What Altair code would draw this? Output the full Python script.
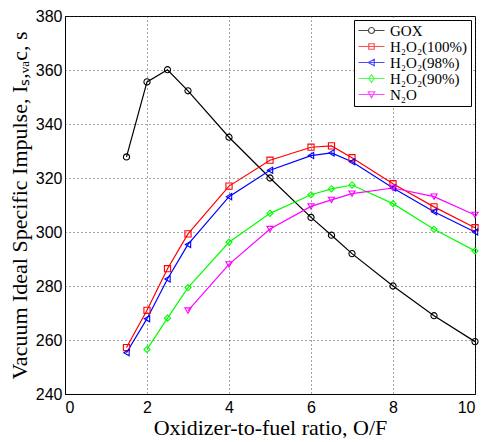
import altair as alt
import pandas as pd

# ---- data ----
series_names = ["GOX", "H₂O₂(100%)", "H₂O₂(98%)", "H₂O₂(90%)", "N₂O"]
series_colors = ["#000000", "#ff0000", "#0000ff", "#00ff00", "#ff00ff"]
series_shapes = ["circle", "square", "triangle-left", "diamond", "triangle-down"]

ratios_gox = [1.5, 2, 2.5, 3, 4, 5, 6, 6.5, 7, 8, 9, 10]
isp_gox = [327.8, 355.6, 360.1, 352.3, 335.1, 320.0, 305.4, 298.8, 292.0, 280.0, 269.0, 259.4]

ratios_h100 = [1.5, 2, 2.5, 3, 4, 5, 6, 6.5, 7, 8, 9, 10]
isp_h100 = [257.2, 271.0, 286.4, 299.3, 317.0, 326.6, 331.4, 331.9, 327.5, 317.9, 309.3, 301.6]

ratios_h98 = [1.5, 2, 2.5, 3, 4, 5, 6, 6.5, 7, 8, 9, 10]
isp_h98 = [255.3, 267.9, 282.6, 295.4, 313.1, 322.9, 328.3, 329.3, 326.0, 316.3, 307.5, 300.0]

ratios_h90 = [2, 2.5, 3, 4, 5, 6, 6.5, 7, 8, 9, 10]
isp_h90 = [256.5, 268.1, 279.4, 296.2, 306.9, 313.8, 316.0, 317.4, 310.5, 301.0, 293.0]

ratios_n2o = [3, 4, 5, 6, 6.5, 7, 8, 9, 10]
isp_n2o = [270.9, 288.0, 301.1, 309.5, 311.9, 314.2, 316.3, 313.1, 306.3]

x_ticks = [0, 2, 4, 6, 8, 10]
y_ticks = [240, 260, 280, 300, 320, 340, 360, 380]

# legend glyphs: short line segment with the series marker on it
legend_paths = [
    "M-2.6,0H-0.6M0.6,0H2.6M0.6,0A0.6,0.6 0 1 1 -0.6,0A0.6,0.6 0 1 1 0.6,0",
    "M-2.6,0H2.6M-0.55,-0.55H0.55V0.55H-0.55Z",
    "M-2.6,0H2.6M-0.65,0L0.55,-0.65V0.65Z",
    "M-2.6,0H2.6M0,-0.75L0.55,0L0,0.75L-0.55,0Z",
    "M-2.6,0H2.6M-0.65,-0.55H0.65L0,0.65Z",
]

ratios = [ratios_gox, ratios_h100, ratios_h98, ratios_h90, ratios_n2o]
isps = [isp_gox, isp_h100, isp_h98, isp_h90, isp_n2o]

rows = []
for name, xs, ys in zip(series_names, ratios, isps):
    for xv, yv in zip(xs, ys):
        rows.append({"series": name, "of": xv, "isp": yv})
df = pd.DataFrame(rows)

x_enc = alt.X(
    "of:Q",
    scale=alt.Scale(domain=[0, 10], nice=False, zero=False),
    axis=alt.Axis(values=x_ticks, title="Oxidizer-to-fuel ratio, O/F", format="d",
                  labelPadding=5, titlePadding=2),
)
y_enc = alt.Y(
    "isp:Q",
    scale=alt.Scale(domain=[240, 380], nice=False, zero=False),
    axis=alt.Axis(values=y_ticks, title="Vacuum Ideal Specific Impulse, Iₛ,ᵥₐc, s",
                  format="d", labelPadding=3, titlePadding=4),
)
color_scale = alt.Scale(domain=series_names, range=series_colors)

leg = alt.Legend(
    title=None, orient="top-right", offset=4, fillColor="white", strokeColor="black",
    padding=3, rowPadding=0, labelFont="Liberation Serif", labelFontSize=15,
    labelColor="black", symbolSize=100, symbolStrokeWidth=1.2, symbolOffset=7,
    labelOffset=11, symbolFillColor="transparent",
)

lines = alt.Chart(df).mark_line(strokeWidth=1.2).encode(
    x=x_enc, y=y_enc,
    color=alt.Color("series:N", scale=color_scale, legend=leg),
)

point_layers = []
for name, col, shp in zip(series_names, series_colors, series_shapes):
    point_layers.append(
        alt.Chart(df)
        .transform_filter(alt.datum.series == name)
        .mark_point(shape=shp, color=col, filled=False, size=38, strokeWidth=1.1, opacity=1)
        .encode(x=x_enc, y=y_enc)
    )

legend_layer = (
    alt.Chart(df)
    .transform_filter("false")
    .mark_point(filled=False, strokeWidth=1.2)
    .encode(
        x=x_enc, y=y_enc,
        color=alt.Color("series:N", scale=color_scale, legend=leg),
        shape=alt.Shape("series:N", scale=alt.Scale(domain=series_names, range=legend_paths), legend=leg),
    )
)

chart = (
    alt.layer(lines, *point_layers, legend_layer)
    .properties(width=410, height=378, padding=0)
    .configure_view(stroke="black", strokeWidth=1)
    .configure_axis(
        labelFont="Liberation Sans", labelFontSize=16, labelColor="black",
        titleFont="Liberation Serif", titleFontSize=22, titleFontWeight="normal", titleColor="black",
        domainColor="black", domainWidth=1, grid=True, gridColor="#333333", gridDash=[1, 3],
        gridWidth=0.9, tickSize=0,
    )
)

chart.save("out.html", embed_options={"renderer": "svg", "actions": False})
